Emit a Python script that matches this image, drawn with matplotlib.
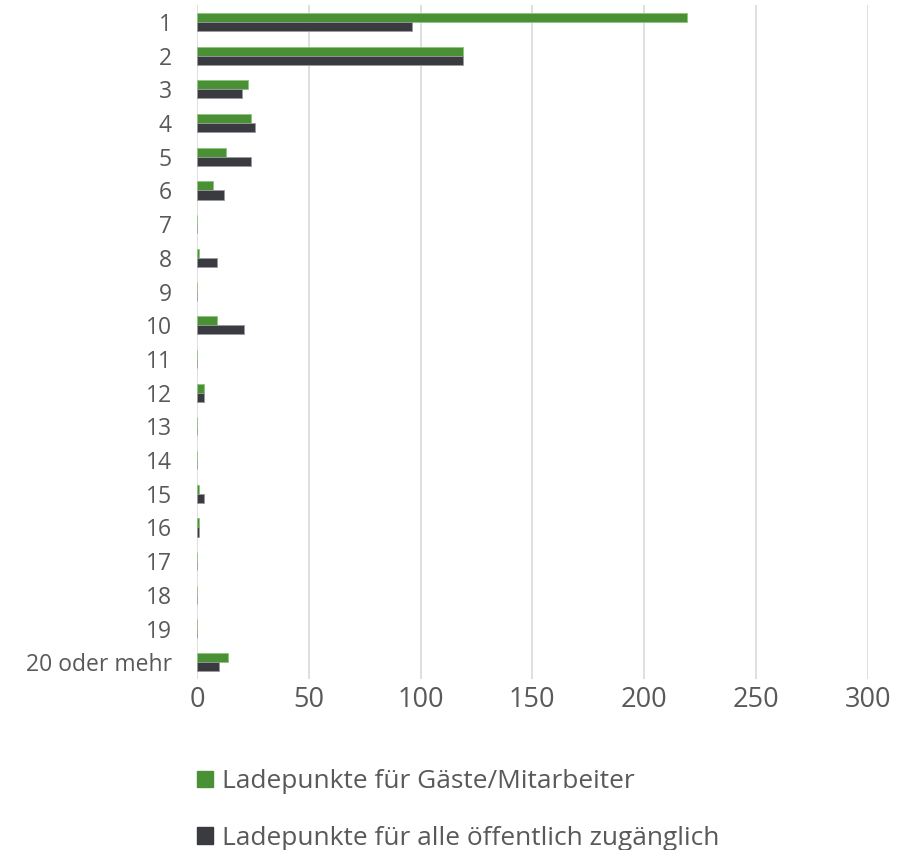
import matplotlib.pyplot as plt
import numpy as np
from matplotlib.patches import Patch

# ---- Data ------------------------------------------------------------------
categories = [str(i) for i in range(1, 20)] + ["20 oder mehr"]
gaeste = [219, 119, 23, 24, 13, 7, 0, 1, 0, 9, 0, 3, 0, 0, 1, 1, 0, 0, 0, 14]
oeffentlich = [96, 119, 20, 26, 24, 12, 0, 9, 0, 21, 0, 3, 0, 0, 3, 1, 0, 0, 0, 10]
series_labels = ["Ladepunkte für Gäste/Mitarbeiter",
                 "Ladepunkte für alle öffentlich zugänglich"]

GREEN = "#4a9135"
DARK = "#3a3b40"
TEXT = "#595959"

plt.rcParams["font.family"] = ["Open Sans", "DejaVu Sans"]

fig = plt.figure(figsize=(9.2, 8.5), dpi=100)
ax = fig.add_axes([0.2141, 0.201, 0.729, 0.793])

y = np.arange(len(categories))
h = 0.27
ax.barh(y - h / 2, gaeste, height=h, color=GREEN, edgecolor="#8cc57a",
        linewidth=0.6, zorder=3)
ax.barh(y + h / 2, oeffentlich, height=h, color=DARK, edgecolor="#9a9a9e",
        linewidth=0.6, zorder=3)

ax.set_xlim(0, 300)
ax.set_ylim(len(categories) - 0.5, -0.5)
ax.set_xticks(np.arange(0, 301, 50))
ax.set_yticks(y)
ax.set_yticklabels(categories)
ax.tick_params(axis="x", length=0, labelsize=19.5, colors=TEXT, pad=5)
ax.tick_params(axis="y", length=0, labelsize=16.5, colors=TEXT, pad=18)

ax.grid(axis="x", color="#d9d9d9", linewidth=1.2, zorder=0)
for s in ax.spines.values():
    s.set_visible(False)

handles = [Patch(color=GREEN), Patch(color=DARK)]
fig.legend(handles, series_labels, loc="upper left",
           bbox_to_anchor=(0.2027, 0.1075), frameon=False,
           fontsize=18.9, labelcolor=TEXT, handlelength=0.6, handleheight=0.6,
           handletextpad=0.35, labelspacing=1.2, borderaxespad=0)

fig.savefig("out.png", dpi=100)
